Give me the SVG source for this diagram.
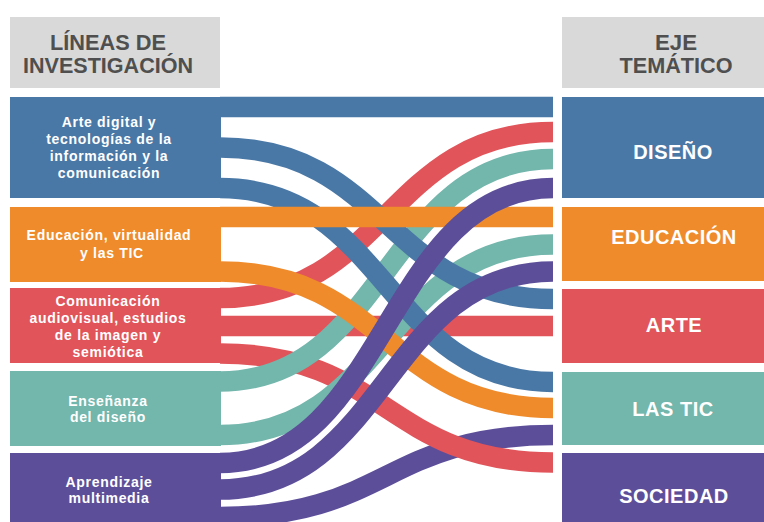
<svg xmlns="http://www.w3.org/2000/svg" width="764" height="522" viewBox="0 0 764 522">
<style>
.hdr{fill:#d9d9d9}
.htxt{font-family:"Liberation Sans",Arial,sans-serif;font-weight:bold;font-size:22px;fill:#4f4f4f;text-anchor:middle}
.ltxt{font-family:"Liberation Sans",Arial,sans-serif;font-weight:bold;font-size:14px;letter-spacing:0.7px;fill:#fff;text-anchor:middle}
.rtxt{font-family:"Liberation Sans",Arial,sans-serif;font-weight:bold;font-size:20px;letter-spacing:0.5px;fill:#fff;text-anchor:middle}
.f{fill:none;stroke-width:20.5;stroke-linecap:butt}
.blue{fill:#4a78a6}.orange{fill:#ef8b2b}.red{fill:#e1545a}.teal{fill:#72b6ac}.purple{fill:#5d4e9a}
.sb{stroke:#4a78a6}.so{stroke:#ef8b2b}.sr{stroke:#e1545a}.st{stroke:#72b6ac}.sp{stroke:#5d4e9a}
</style>
<rect width="764" height="522" fill="#fff"/>
<g id="header-left">
<rect class="hdr" x="10" y="17" width="210" height="71"/>
<text class="htxt" x="108" y="50" textLength="116" lengthAdjust="spacingAndGlyphs">LÍNEAS DE</text>
<text class="htxt" x="108" y="73" textLength="170" lengthAdjust="spacingAndGlyphs">INVESTIGACIÓN</text>
</g>
<g id="header-right">
<rect class="hdr" x="562" y="17" width="202" height="71"/>
<text class="htxt" x="676" y="50" textLength="42" lengthAdjust="spacingAndGlyphs">EJE</text>
<text class="htxt" x="676" y="73" textLength="113" lengthAdjust="spacingAndGlyphs">TEMÁTICO</text>
</g>
<g id="connectors">
<path class="f sp" d="M220 517 C386.5 517 386.5 435 553 435"/>
<path class="f sr" d="M220 353.5 C386.5 353.5 386.5 462.5 553 462.5"/>
<path class="f sr" d="M220 298 C386.5 298 386.5 132 553 132"/>
<path class="f sr" d="M220 326 H553"/>
<path class="f st" d="M220 381.5 C386.5 381.5 386.5 159 553 159"/>
<path class="f st" d="M220 435 C386.5 435 386.5 244.5 553 244.5"/>
<path class="f sb" d="M220 107 H553"/>
<path class="f sb" d="M220 147.5 C386.5 147.5 386.5 299 553 299"/>
<path class="f sb" d="M220 188 C386.5 188 386.5 382 553 382"/>
<path class="f so" d="M220 217 H553"/>
<path class="f so" d="M220 271.5 C386.5 271.5 386.5 408 553 408"/>
<path class="f sp" d="M220 463 C386.5 463 386.5 188 553 188"/>
<path class="f sp" d="M220 489.5 C386.5 489.5 386.5 271.5 553 271.5"/>
</g>
<g id="linea-arte-digital">
<rect class="blue" x="10" y="97" width="211" height="101"/>
<text class="ltxt" x="109" y="127">Arte digital y</text>
<text class="ltxt" x="109" y="144">tecnologías de la</text>
<text class="ltxt" x="109" y="161">información y la</text>
<text class="ltxt" x="109" y="178">comunicación</text>
</g>
<g id="linea-educacion">
<rect class="orange" x="10" y="207" width="211" height="75"/>
<text class="ltxt" x="109" y="240">Educación, virtualidad</text>
<text class="ltxt" x="112" y="258">y las TIC</text>
</g>
<g id="linea-comunicacion">
<rect class="red" x="10" y="288" width="211" height="75"/>
<text class="ltxt" x="108" y="306">Comunicación</text>
<text class="ltxt" x="108" y="323">audiovisual, estudios</text>
<text class="ltxt" x="108" y="340">de la imagen y</text>
<text class="ltxt" x="108" y="357">semiótica</text>
</g>
<g id="linea-ensenanza">
<rect class="teal" x="10" y="371" width="211" height="75"/>
<text class="ltxt" x="108" y="406">Enseñanza</text>
<text class="ltxt" x="108" y="422">del diseño</text>
</g>
<g id="linea-aprendizaje">
<rect class="purple" x="10" y="453" width="211" height="69"/>
<text class="ltxt" x="109" y="487">Aprendizaje</text>
<text class="ltxt" x="109" y="503">multimedia</text>
</g>
<g id="eje-diseno">
<rect class="blue" x="562" y="97" width="202" height="101"/>
<text class="rtxt" x="673" y="159">DISEÑO</text>
</g>
<g id="eje-educacion">
<rect class="orange" x="562" y="207" width="202" height="74"/>
<text class="rtxt" x="674" y="244">EDUCACIÓN</text>
</g>
<g id="eje-arte">
<rect class="red" x="562" y="289" width="202" height="74"/>
<text class="rtxt" x="674" y="332">ARTE</text>
</g>
<g id="eje-las-tic">
<rect class="teal" x="562" y="372" width="202" height="73"/>
<text class="rtxt" x="673" y="416">LAS TIC</text>
</g>
<g id="eje-sociedad">
<rect class="purple" x="562" y="453" width="202" height="69"/>
<text class="rtxt" x="674" y="503">SOCIEDAD</text>
</g>
</svg>
